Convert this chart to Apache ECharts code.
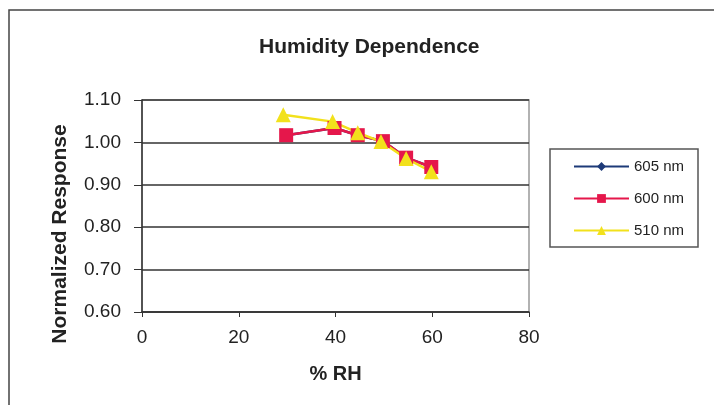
<!DOCTYPE html>
<html><head><meta charset="utf-8">
<script src="https://cdn.jsdelivr.net/npm/echarts@6/dist/echarts.min.js"></script>
<style>html,body{margin:0;padding:0;background:#fff}#c{width:714px;height:405px}</style>
</head><body><div id="c"></div>
<script>
const seriesNames = ['605 nm', '600 nm', '510 nm'];
const rh605 = [29.8, 39.8, 44.6, 49.8, 54.6, 59.8];
const val605 = [1.017, 1.034, 1.017, 1.003, 0.964, 0.942];
const rh600 = [29.8, 39.8, 44.6, 49.8, 54.6, 59.8];
const val600 = [1.017, 1.034, 1.017, 1.003, 0.964, 0.942];
const rh510 = [29.2, 39.4, 44.6, 49.4, 54.6, 59.8];
const val510 = [1.065, 1.049, 1.023, 1.002, 0.962, 0.931];
const xTicks = [0, 20, 40, 60, 80];
const yTicks = [0.60, 0.70, 0.80, 0.90, 1.00, 1.10];

const pairs = (xs, ys) => xs.map((x, i) => [x, ys[i]]);
const chart = echarts.init(document.getElementById('c'));
const font = 'Liberation Sans, Arial, sans-serif';
chart.setOption({
  backgroundColor: '#fff',
  animation: false,
  title: {
    text: 'Humidity Dependence', left: 254, top: 32,
    textStyle: { fontFamily: font, fontSize: 21, fontWeight: 'bold', color: '#222' }
  },
  graphic: [
    { type: 'rect', shape: { x: 9, y: 10, width: 720, height: 410 }, style: { fill: 'none', stroke: '#444', lineWidth: 1.5 } },
    { type: 'rect', shape: { x: 550, y: 149, width: 148, height: 98 }, style: { fill: '#fff', stroke: '#555', lineWidth: 1.5 }, z: 0 }
  ],
  legend: {
    orient: 'vertical', left: 568, top: 154, itemGap: 17, itemWidth: 55, itemHeight: 11,
    data: seriesNames,
    textStyle: { fontFamily: font, fontSize: 15, color: '#222' },
    z: 10
  },
  grid: { left: 142, top: 100, right: 185, bottom: 93, show: true, borderColor: '#999', borderWidth: 1.5 },
  xAxis: {
    type: 'value', min: 0, max: 80, interval: 20,
    name: '% RH', nameLocation: 'middle', nameGap: 52,
    nameTextStyle: { fontFamily: font, fontSize: 20, fontWeight: 'bold', color: '#222' },
    axisLine: { show: true, onZero: false, lineStyle: { color: '#333', width: 1.5 } },
    axisTick: { show: true, length: 5, inside: false, lineStyle: { color: '#333' } },
    axisLabel: { fontFamily: font, fontSize: 19, color: '#222', margin: 16, formatter: v => xTicks.includes(v) ? String(v) : '' },
    splitLine: { show: false }
  },
  yAxis: {
    type: 'value', min: 0.6, max: 1.1, interval: 0.1,
    name: 'Normalized Response', nameLocation: 'middle', nameGap: 71,
    nameTextStyle: { fontFamily: font, fontSize: 21, fontWeight: 'bold', color: '#222', padding: [0, 56, 0, 0] },
    axisLine: { show: true, lineStyle: { color: '#333', width: 1.5 } },
    axisTick: { show: true, length: 8, lineStyle: { color: '#333' } },
    axisLabel: { fontFamily: font, fontSize: 19, color: '#222', margin: 21,
      formatter: v => { const t = yTicks.find(y => Math.abs(y - v) < 1e-6); return t !== undefined ? t.toFixed(2) : ''; } },
    splitLine: { show: true, lineStyle: { color: '#333', width: 1.5 } }
  },
  series: [
    { name: seriesNames[0], type: 'line', data: pairs(rh605, val605), symbol: 'diamond', symbolSize: 12,
      itemStyle: { color: '#1d3a78' }, lineStyle: { color: '#1d3a78', width: 2.5 } },
    { name: seriesNames[1], type: 'line', data: pairs(rh600, val600), symbol: 'rect', symbolSize: 14,
      itemStyle: { color: '#e5174b' }, lineStyle: { color: '#e5174b', width: 2.5 } },
    { name: seriesNames[2], type: 'line', data: pairs(rh510, val510), symbol: 'triangle', symbolSize: 15,
      itemStyle: { color: '#f2e11c' }, lineStyle: { color: '#f2e11c', width: 2.5 } }
  ]
});
</script></body></html>
